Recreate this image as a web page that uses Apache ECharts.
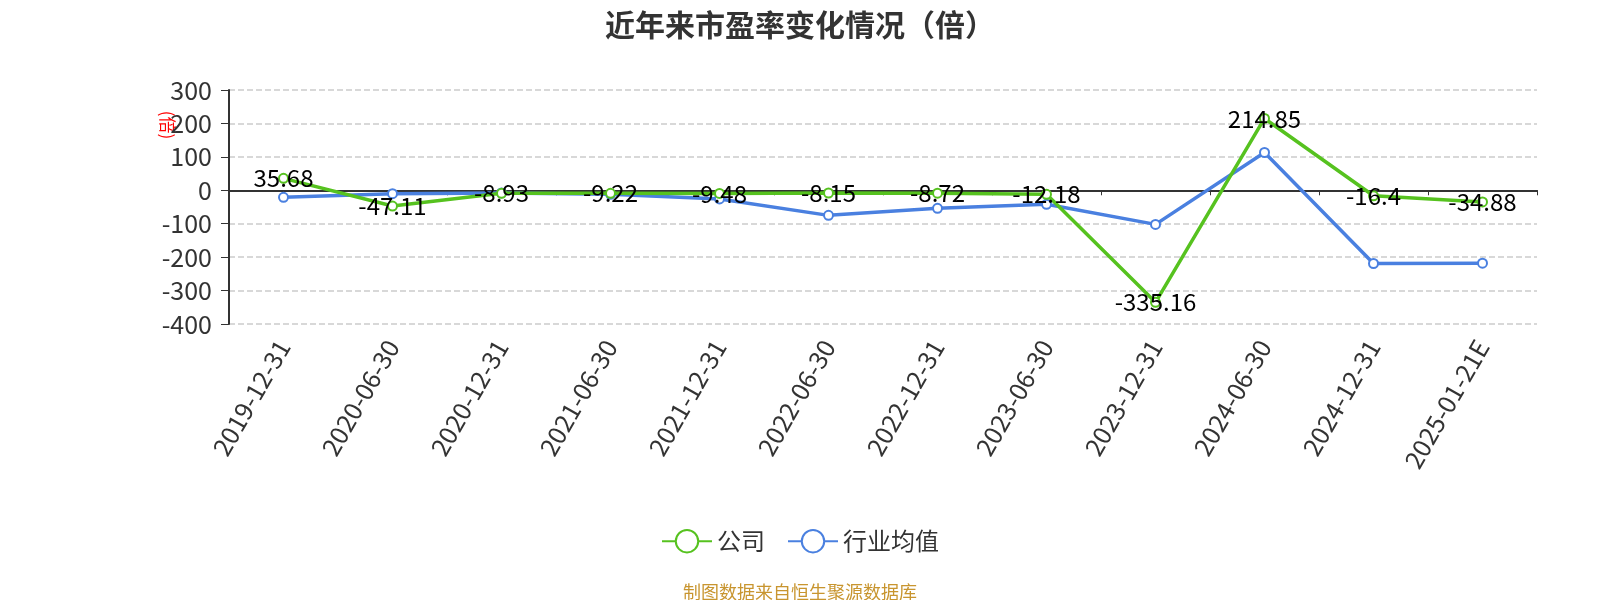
<!DOCTYPE html>
<html>
<head>
<meta charset="utf-8">
<title>近年来市盈率变化情况</title>
<script src="https://cdn.jsdelivr.net/npm/echarts@6/dist/echarts.min.js"></script>
<style>
  html, body { margin: 0; padding: 0; background: #fff; }
  #main { width: 1600px; height: 600px; }
</style>
</head>
<body>
<div id="main"></div>
<script>
// 报告期
var dates = ['2019-12-31', '2020-06-30', '2020-12-31', '2021-06-30', '2021-12-31', '2022-06-30',
  '2022-12-31', '2023-06-30', '2023-12-31', '2024-06-30', '2024-12-31', '2025-01-21E'];
// 公司市盈率
var companyPE = [35.68, -47.11, -8.93, -9.22, -9.48, -8.15, -8.72, -12.18, -335.16, 214.85, -16.4, -34.88];
// 行业均值
var industryPE = [-21, -10, -8, -12, -26, -75, -54, -42, -102, 113, -219, -218];
var seriesNames = ['公司', '行业均值'];

var chart = echarts.init(document.getElementById('main'));

var option = {
  backgroundColor: '#fff',
  color: ['#56c21f', '#4a80e0'],
  title: [{
    text: '近年来市盈率变化情况（倍）',
    left: 'center',
    top: 5,
    textStyle: {
      fontSize: 30,
      fontWeight: 'bold',
      color: '#333',
      fontFamily: 'Noto Sans CJK SC'
    }
  }, {
    text: '制图数据来自恒生聚源数据库',
    left: 'center',
    top: 578,
    textStyle: {
      fontSize: 18,
      fontWeight: 'normal',
      color: '#c8952f',
      fontFamily: 'Noto Sans CJK SC'
    }
  }],
  legend: {
    data: seriesNames,
    left: 'center',
    top: 524,
    itemWidth: 50,
    itemHeight: 28,
    itemGap: 22,
    textStyle: {
      fontSize: 24,
      color: '#333',
      fontFamily: 'Noto Sans CJK SC'
    }
  },
  grid: {
    left: 229,
    right: 63,
    top: 90,
    bottom: 276
  },
  graphic: [{
    type: 'text',
    x: 167,
    y: 125,
    rotation: -Math.PI / 2,
    style: {
      text: '(倍)',
      fill: '#ff0000',
      fontSize: 17,
      fontFamily: 'Noto Sans CJK SC',
      textAlign: 'center',
      textVerticalAlign: 'middle'
    }
  }],
  xAxis: [{
    type: 'category',
    data: dates,
    position: 'bottom',
    axisLine: { onZero: true, lineStyle: { color: '#333', width: 2 } },
    axisTick: { show: true, length: 5, lineStyle: { color: '#333' } },
    axisLabel: { show: false }
  }, {
    type: 'category',
    data: dates,
    position: 'bottom',
    axisLine: { show: false, onZero: false },
    axisTick: { show: false },
    axisLabel: {
      rotate: 60,
      margin: 18,
      interval: 0,
      fontSize: 25,
      color: '#333',
      fontFamily: 'Noto Sans CJK SC'
    }
  }],
  yAxis: {
    type: 'value',
    min: -400,
    max: 300,
    interval: 100,
    axisLine: { show: true, lineStyle: { color: '#333', width: 2 } },
    axisTick: { show: true, length: 8, lineStyle: { color: '#333' } },
    axisLabel: {
      margin: 17,
      fontSize: 25,
      color: '#333',
      fontFamily: 'Noto Sans CJK SC'
    },
    splitLine: {
      show: true,
      lineStyle: { color: '#ccc', type: 'dashed', width: 1.5 }
    }
  },
  series: [{
    name: seriesNames[0],
    type: 'line',
    xAxisIndex: 0,
    data: companyPE,
    symbol: 'emptyCircle',
    symbolSize: 9,
    lineStyle: { width: 3.5 },
    itemStyle: { borderWidth: 2 },
    label: {
      show: true,
      position: 'inside',
      fontSize: 24,
      color: '#000',
      fontFamily: 'Noto Sans CJK SC'
    },
    z: 3
  }, {
    name: seriesNames[1],
    type: 'line',
    xAxisIndex: 0,
    data: industryPE,
    symbol: 'emptyCircle',
    symbolSize: 9,
    lineStyle: { width: 3.5 },
    itemStyle: { borderWidth: 2 },
    z: 2
  }]
};

chart.setOption(option);
</script>
</body>
</html>
